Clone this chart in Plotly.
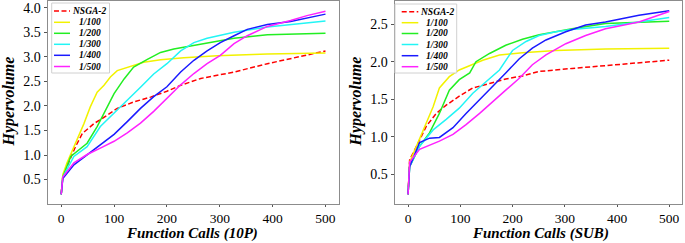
import plotly.graph_objects as go

W, H = 685, 243

# ---------------- data: left panel (10P) ----------------
x10_nsga = [0, 3, 11, 27, 40, 62, 87, 106, 137, 169, 200, 226, 264, 327, 390, 453, 500]
y10_nsga = [0.2, 0.57, 0.77, 1.17, 1.44, 1.64, 1.81, 1.95, 2.08, 2.18, 2.3, 2.42, 2.56, 2.69, 2.86, 3.0, 3.12]

x10_100 = [0, 3, 11, 30, 43, 55, 68, 81, 93, 106, 125, 156, 188, 232, 295, 390, 500]
y10_100 = [0.2, 0.6, 0.84, 1.31, 1.64, 1.98, 2.28, 2.42, 2.59, 2.72, 2.79, 2.89, 2.94, 2.98, 3.02, 3.06, 3.08]

x10_200 = [0, 3, 18, 49, 68, 87, 100, 119, 137, 163, 188, 213, 238, 264, 295, 327, 390, 500]
y10_200 = [0.2, 0.55, 0.97, 1.24, 1.58, 1.98, 2.25, 2.55, 2.79, 2.95, 3.09, 3.16, 3.21, 3.26, 3.33, 3.38, 3.45, 3.48]

x10_300 = [0, 3, 24, 49, 74, 100, 125, 150, 175, 200, 226, 251, 276, 327, 390, 453, 500]
y10_300 = [0.2, 0.55, 0.97, 1.17, 1.58, 1.85, 2.11, 2.38, 2.65, 2.86, 3.12, 3.29, 3.38, 3.5, 3.61, 3.68, 3.73]

x10_400 = [0, 3, 24, 49, 74, 100, 125, 150, 175, 200, 226, 251, 276, 301, 327, 352, 390, 434, 500]
y10_400 = [0.2, 0.52, 0.8, 1.01, 1.21, 1.42, 1.68, 1.95, 2.19, 2.39, 2.69, 2.93, 3.12, 3.29, 3.43, 3.56, 3.66, 3.72, 3.87]

x10_500 = [0, 3, 24, 49, 74, 100, 125, 150, 175, 200, 226, 251, 276, 301, 327, 352, 390, 434, 465, 500]
y10_500 = [0.2, 0.55, 0.84, 1.01, 1.14, 1.28, 1.45, 1.65, 1.89, 2.16, 2.43, 2.66, 2.86, 3.03, 3.27, 3.43, 3.62, 3.74, 3.84, 3.93]

# ---------------- data: right panel (SUB) ----------------
xs_nsga = [0, 3, 16, 35, 54, 73, 98, 124, 156, 187, 219, 251, 314, 378, 442, 500]
ys_nsga = [0.23, 0.69, 0.87, 1.14, 1.31, 1.42, 1.54, 1.65, 1.71, 1.77, 1.81, 1.87, 1.91, 1.95, 1.98, 2.02]

xs_100 = [0, 3, 16, 35, 48, 60, 79, 98, 124, 143, 175, 219, 283, 378, 500]
ys_100 = [0.23, 0.66, 0.87, 1.18, 1.4, 1.65, 1.8, 1.89, 1.96, 2.02, 2.09, 2.12, 2.15, 2.17, 2.18]

xs_200 = [0, 3, 22, 41, 60, 79, 98, 118, 130, 156, 187, 219, 251, 314, 378, 500]
ys_200 = [0.23, 0.6, 0.87, 1.05, 1.31, 1.62, 1.76, 1.85, 2.0, 2.11, 2.22, 2.3, 2.36, 2.44, 2.51, 2.54]

xs_300 = [0, 3, 22, 48, 73, 98, 124, 149, 175, 200, 226, 251, 283, 314, 378, 442, 500]
ys_300 = [0.23, 0.6, 0.87, 1.09, 1.23, 1.38, 1.58, 1.73, 1.89, 2.15, 2.27, 2.35, 2.4, 2.43, 2.47, 2.53, 2.59]

xs_400 = [0, 3, 22, 41, 60, 86, 111, 137, 162, 187, 213, 238, 264, 302, 340, 378, 442, 500]
ys_400 = [0.23, 0.6, 0.92, 0.98, 0.99, 1.12, 1.31, 1.49, 1.67, 1.85, 2.04, 2.18, 2.29, 2.4, 2.49, 2.53, 2.62, 2.68]

xs_500 = [0, 3, 22, 60, 86, 111, 137, 162, 187, 213, 238, 264, 302, 340, 378, 442, 500]
ys_500 = [0.23, 0.66, 0.83, 0.94, 1.03, 1.16, 1.31, 1.47, 1.62, 1.78, 1.96, 2.09, 2.24, 2.35, 2.44, 2.53, 2.67]

series_names = ["NSGA-2", "1/100", "1/200", "1/300", "1/400", "1/500"]
x_ticks = [0, 100, 200, 300, 400, 500]
y_ticks_left = [0.5, 1.0, 1.5, 2.0, 2.5, 3.0, 3.5, 4.0]
y_ticks_right = [0.5, 1.0, 1.5, 2.0, 2.5]
x_title_left = "Function Calls (10P)"
x_title_right = "Function Calls (SUB)"
y_title = "Hypervolume"

colors = ["#ff0000", "#f2f200", "#22ee22", "#22f5f5", "#1a1aff", "#ff22ff"]
dashes = ["5px,2.5px", "solid", "solid", "solid", "solid", "solid"]

left_data = [(x10_nsga, y10_nsga), (x10_100, y10_100), (x10_200, y10_200),
             (x10_300, y10_300), (x10_400, y10_400), (x10_500, y10_500)]
right_data = [(xs_nsga, ys_nsga), (xs_100, ys_100), (xs_200, ys_200),
              (xs_300, ys_300), (xs_400, ys_400), (xs_500, ys_500)]

fig = go.Figure()
for i, (xv, yv) in enumerate(left_data):
    fig.add_trace(go.Scatter(x=xv, y=yv, mode="lines", name=series_names[i],
                             line=dict(color=colors[i], width=1.5, dash=dashes[i]),
                             xaxis="x", yaxis="y", showlegend=False))
for i, (xv, yv) in enumerate(right_data):
    fig.add_trace(go.Scatter(x=xv, y=yv, mode="lines", name=series_names[i],
                             line=dict(color=colors[i], width=1.5, dash=dashes[i]),
                             xaxis="x2", yaxis="y2", showlegend=False))

def px(v):
    return v / W

def py(v):
    return 1 - v / H

serif = "Liberation Serif, Times New Roman, serif"
frame = "#8c8c8c"
tickfont = dict(family=serif, size=14, color="black")
xtickfont = dict(family=serif, size=13.5, color="black")
titlefont = dict(family=serif, size=15, color="black", weight="bold", style="italic")

common_x = dict(range=[-25, 525], tickvals=x_ticks, ticks="outside", ticklen=2,
                tickcolor="#555", showline=True, linecolor=frame, linewidth=1,
                mirror=True, showgrid=False, zeroline=False, tickfont=xtickfont,
                automargin=False)
common_y = dict(ticks="outside", ticklen=3.5, tickcolor="#555", showline=True,
                linecolor=frame, linewidth=1, mirror=True, showgrid=False,
                zeroline=False, tickfont=tickfont, tickformat=".1f", automargin=False)

fig.update_layout(
    width=W, height=H,
    margin=dict(l=0, r=0, t=0, b=0),
    paper_bgcolor="white", plot_bgcolor="white",
    xaxis=dict(domain=[px(48), px(338.7)], anchor="y", **common_x),
    yaxis=dict(domain=[py(203.5), py(1)], anchor="x", range=[0.0125, 4.1375],
               tickvals=y_ticks_left, **common_y),
    xaxis2=dict(domain=[px(395), px(682.3)], anchor="y2", **common_x),
    yaxis2=dict(domain=[py(203.5), py(1)], anchor="x2", range=[0.108, 2.81],
                tickvals=y_ticks_right, **common_y),
    showlegend=False,
)

# ---------------- axis titles ----------------
for cx, txt in [(192, x_title_left), (540, x_title_right)]:
    fig.add_annotation(xref="paper", yref="paper", x=px(cx), y=0, text=txt,
                       showarrow=False, xanchor="center", yanchor="bottom",
                       borderpad=0, font=titlefont)
for cx in [8.5, 355.5]:
    fig.add_annotation(xref="paper", yref="paper", x=px(cx), y=py(102), text=y_title,
                       showarrow=False, xanchor="center", yanchor="middle",
                       textangle=-90, font=dict(family=serif, size=16, color="black",
                                                weight="bold", style="italic"))

# ---------------- legends drawn as shapes + text ----------------
def add_legend(box, rows, line_x, text_cx):
    x0, x1, y0, y1 = box
    fig.add_shape(type="rect", xref="paper", yref="paper",
                  x0=px(x0), x1=px(x1), y0=py(y1), y1=py(y0),
                  line=dict(color="#d0d0d0", width=1), fillcolor="rgba(255,255,255,0.85)",
                  layer="above")
    for i, name in enumerate(series_names):
        yy = rows[i]
        fig.add_shape(type="line", xref="paper", yref="paper",
                      x0=px(line_x[0]), x1=px(line_x[1]), y0=py(yy), y1=py(yy),
                      line=dict(color=colors[i], width=1.5, dash=dashes[i]), layer="above")
        fig.add_annotation(xref="paper", yref="paper", x=px(text_cx), y=py(yy),
                           text=name, showarrow=False, xanchor="center", yanchor="middle",
                           font=dict(family=serif, size=9.5, color="black",
                                     weight="bold", style="italic"))

add_legend((51.7, 109.5, 3, 73), [11, 22.3, 33.3, 44.3, 55.3, 66.5], (54, 70), 89.5)
add_legend((395, 456.7, 4, 73), [11.7, 22.7, 33.5, 44.5, 55.7, 66.7], (401.7, 418.3), 437)

fig.write_html("out.html",
               config={"displayModeBar": False},
               post_script="document.body.style.margin='0';document.body.style.padding='0';")
